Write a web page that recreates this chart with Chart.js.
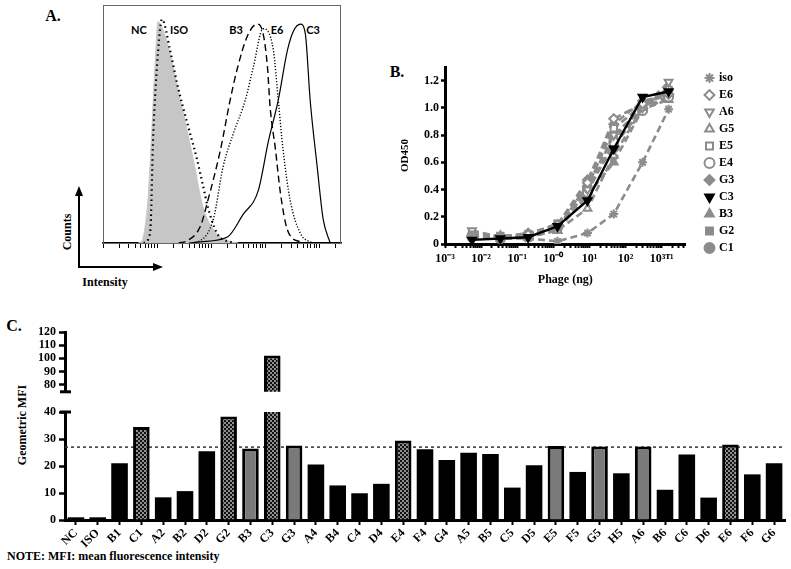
<!DOCTYPE html>
<html><head><meta charset="utf-8">
<script src="https://cdn.jsdelivr.net/npm/chart.js@4.4.1/dist/chart.umd.min.js"></script>
<style>
html,body{margin:0;padding:0;background:#fff;}
body{width:791px;height:569px;position:relative;overflow:hidden;font-family:"Liberation Serif",serif;}
canvas{position:absolute;}
.t{position:absolute;transform:translate(-50%,-50%);font-weight:bold;white-space:nowrap;line-height:1;color:#000;font-family:"Liberation Serif",serif;}
.s{font-family:Lato,"Liberation Sans",sans-serif;font-size:11px;}
</style></head><body>
<div class="t" style="left:53px;top:16px;font-size:16px">A.</div>
<div class="t s" style="left:139px;top:29px">NC</div>
<div class="t s" style="left:179px;top:29px">ISO</div>
<div class="t s" style="left:236px;top:29px">B3</div>
<div class="t s" style="left:277px;top:29px">E6</div>
<div class="t s" style="left:313px;top:29px">C3</div>
<div class="t" style="left:67px;top:232px;font-size:12px;transform:translate(-50%,-50%) rotate(-90deg)">Counts</div>
<div class="t" style="left:105px;top:282px;font-size:12px">Intensity</div>
<svg style="position:absolute;left:0;top:0" width="200" height="300">
  <line x1="79" y1="268" x2="79" y2="194" stroke="#000" stroke-width="2"/>
  <polygon points="79,186 75,196 83,196" fill="#000"/>
  <line x1="78" y1="267" x2="155" y2="267" stroke="#000" stroke-width="2"/>
  <polygon points="163,267 153,263 153,271" fill="#000"/>
</svg>
<div class="t" style="left:397px;top:72px;font-size:16px">B.</div>
<div class="t" style="left:14px;top:326px;font-size:16px">C.</div>
<div class="t" style="left:22px;top:425px;font-size:12px;transform:translate(-50%,-50%) rotate(-90deg)">Geometric MFI</div>
<div class="t" style="left:7px;top:556px;font-size:12px;transform:translate(0,-50%)">NOTE: MFI: mean fluorescence intensity</div>

<canvas id="cA" width="258" height="265" style="left:93px;top:0px"></canvas>
<canvas id="cB" width="411" height="262" style="left:380px;top:40px"></canvas>
<canvas id="cCu" width="791" height="82" style="left:0px;top:320px"></canvas>
<canvas id="cCl" width="791" height="155" style="left:0px;top:400px"></canvas>

<script>
// ===================== DATA =====================
// Panel A: flow-cytometry histograms (x = log10 intensity, y = % of max count)
const ncX  = [0.65,0.72,0.83,0.90,0.96,1.02,1.08,1.19,1.43,1.67,1.85,2.10,2.30,2.50];
const ncY  = [0,1,18,46,74,93,91,84,60,35,15,4,1,0];
const isoX = [0.75,0.87,0.93,1.02,1.09,1.24,1.37,1.48,1.61,1.74,1.85,1.94,2.11,2.40];
const isoY = [0,4,46,81,94,81,67,57,46,35,24,15,4,0];
const b3X  = [1.40,1.56,1.80,1.94,2.17,2.35,2.48,2.67,2.85,2.96,3.04,3.09,3.19,3.28,3.41,3.65,3.80];
const b3Y  = [0,1,7,18,39,60,73,87,92,88,74,57,39,21,5.5,0.5,0];
const e6X  = [1.60,1.80,2.04,2.22,2.41,2.63,2.78,2.96,3.15,3.24,3.33,3.46,3.65,3.83,3.95];
const e6Y  = [0,1,10,32,46,60,74,90,81,60,39,18,4,0.5,0];
const c3X  = [1.60,1.80,2.30,2.59,2.87,3.06,3.24,3.41,3.52,3.65,3.74,3.83,3.96,4.07,4.20];
const c3Y  = [0,0.5,2.5,12,22,43,60,81,89,92,88,60,32,10,0];

// Panel B: ELISA titration, OD450 vs phage amount (ng)
const phageNg = [0.0056, 0.034, 0.20, 1.3, 8.8, 47, 295, 1550];
const odIso = [0.05, 0.04, 0.04, 0.02, 0.08, 0.22, 0.60, 0.99];
const odE6  = [0.06, 0.05, 0.07, 0.14, 0.45, 0.92, 1.03, 1.10];
const odA6  = [0.10, 0.05, 0.06, 0.12, 0.40, 0.80, 1.00, 1.19];
const odG5  = [0.07, 0.04, 0.05, 0.10, 0.26, 0.65, 1.00, 1.15];
const odE5  = [0.08, 0.06, 0.07, 0.15, 0.42, 0.85, 1.02, 1.13];
const odE4  = [0.06, 0.05, 0.06, 0.13, 0.38, 0.75, 0.98, 1.08];
const odG3  = [0.05, 0.05, 0.08, 0.14, 0.47, 0.88, 1.05, 1.10];
const odC3  = [0.03, 0.04, 0.05, 0.13, 0.32, 0.70, 1.08, 1.12];
const odB3  = [0.07, 0.06, 0.05, 0.10, 0.36, 0.60, 0.99, 1.06];
const odG2  = [0.06, 0.04, 0.05, 0.11, 0.44, 0.78, 1.00, 1.12];
const odC1  = [0.05, 0.04, 0.06, 0.12, 0.41, 0.72, 0.99, 1.09];
const odTicks = [0, 0.2, 0.4, 0.6, 0.8, 1.0, 1.2];
const phageDecadeLabels = {'-3':'10⁻³','-2':'10⁻²','-1':'10⁻¹','0':'10⁻⁰','1':'10¹','2':'10²','3':'10³ᵀ¹'};

// Panel C: geometric MFI per clone
const clones = ['NC','ISO','B1','C1','A2','B2','D2','G2','B3','C3','G3','A4','B4','C4','D4','E4','F4','G4','A5','B5','C5','D5','E5','F5','G5','H5','A6','B6','C6','D6','E6','F6','G6'];
const mfi = [1.0,1.0,21.0,34.4,8.4,10.7,25.5,38.3,26.5,102.2,27.6,20.6,12.8,9.9,13.4,29.4,26.2,22.2,24.9,24.4,12.0,20.3,27.4,17.8,27.2,17.3,27.2,11.2,24.3,8.3,28.0,16.9,21.0];
const checkeredClones = ['C1','G2','C3','E4','E6'];
const grayClones = ['B3','G3','E5','G5','A6'];
const mfiCutoff = 27;
const lowerTicks = [0,10,20,30,40];
const upperTicks = [80,90,100,110,120];

// ===================== STYLE / CHARTS =====================
Chart.defaults.font.family = '"Liberation Serif", serif';
Chart.defaults.font.weight = 'bold';
Chart.defaults.color = '#000';
const F12 = {family:'"Liberation Serif", serif', weight:'bold', size:12};

// ---- Panel A ----
const boxPlugin = {id:'box', afterDraw(c){const a=c.chartArea, x=c.ctx; x.save(); x.strokeStyle='#666'; x.lineWidth=1; x.strokeRect(a.left+0.5,a.top+0.5,a.right-a.left-1,a.bottom-a.top); x.restore();}};
const pts = (xs, ys) => xs.map((v,i)=>({x:v, y:ys[i]}));
const histLine = (label, xs, ys, dash, w) => ({label, data:pts(xs,ys), borderColor:'#000', borderWidth:w, borderDash:dash, fill:false, pointRadius:0, cubicInterpolationMode:'monotone'});
new Chart(document.getElementById('cA'), {
  type:'line',
  data:{datasets:[
    histLine('C3', c3X, c3Y, [], 1.2),
    histLine('E6', e6X, e6Y, [1.2,1.8], 1.4),
    histLine('B3', b3X, b3Y, [7,4], 1.4),
    histLine('ISO', isoX, isoY, [1.5,3.5], 2.2),
    {label:'NC', data:pts(ncX,ncY), borderColor:'#c6c6c6', backgroundColor:'#c6c6c6', borderWidth:1, fill:'origin', pointRadius:0, cubicInterpolationMode:'monotone'}
  ]},
  options:{
    animation:false, responsive:false, events:[],
    layout:{padding:{left:10,right:10,top:5,bottom:0}},
    plugins:{legend:{display:false}, tooltip:{enabled:false}},
    scales:{
      x:{type:'linear', min:0, max:4.4,
         afterBuildTicks:s=>{const t=[]; for(let d=0; d<=4; d++) for(let k=1;k<=9;k++){const v=d+Math.log10(k); if(v<=4.4) t.push({value:v});} s.ticks=t;},
         ticks:{display:false, autoSkip:false},
         grid:{drawOnChartArea:false, tickLength:5, tickWidth:1, tickColor:'#000'},
         border:{color:'#000', width:1.5},
         afterFit:s=>{s.height=22;}},
      y:{display:false, min:0, max:100}
    }
  },
  plugins:[boxPlugin]
});

// ---- Panel B ----
const GRAY = '#8c8c8c';
const od = (label, vals, style, open, rot, color, dashed) => ({
  label, data: phageNg.map((x,i)=>({x, y:vals[i]})),
  borderColor:color, backgroundColor:color, borderWidth:dashed?2.6:2.4, borderDash:dashed?[7,4]:[],
  pointStyle:style, pointRotation:rot, pointRadius:4.5, pointBorderWidth:2,
  pointBorderColor:color, pointBackgroundColor: open ? '#fff' : color,
  fill:false, tension:0, order: color==='#000' ? -1 : 0
});
const legendShift = {id:'legendShift', afterLayout(c){const L=c.legend; if(!L) return; const d=(701-380)-L.left; L.left+=d; L.right+=d;}};
new Chart(document.getElementById('cB'), {
  type:'line',
  data:{datasets:[
    od('iso', odIso, 'star', false, 0, GRAY, true),
    od('E6', odE6, 'rectRot', true, 0, GRAY, true),
    od('A6', odA6, 'triangle', true, 180, GRAY, true),
    od('G5', odG5, 'triangle', true, 0, GRAY, true),
    od('E5', odE5, 'rect', true, 0, GRAY, true),
    od('E4', odE4, 'circle', true, 0, GRAY, true),
    od('G3', odG3, 'rectRot', false, 0, GRAY, true),
    od('C3', odC3, 'triangle', false, 180, '#000', false),
    od('B3', odB3, 'triangle', false, 0, GRAY, true),
    od('G2', odG2, 'rect', false, 0, GRAY, true),
    od('C1', odC1, 'circle', false, 0, GRAY, true)
  ]},
  options:{
    animation:false, responsive:false, events:[],
    layout:{padding:{left:0,right:62,top:27,bottom:0}},
    plugins:{
      tooltip:{enabled:false},
      legend:{position:'right', align:'start',
        labels:{usePointStyle:true, boxWidth:7, boxHeight:7, padding:5, color:'#000', font:F12,
                sort:(a,b)=>a.datasetIndex-b.datasetIndex}}
    },
    scales:{
      x:{type:'logarithmic', min:0.001, max:4600,
         afterBuildTicks:s=>{const t=[]; for(let d=-3; d<=3; d++) for(let k=1;k<=9;k++){const v=k*Math.pow(10,d); if(v<=4600) t.push({value:v});} s.ticks=t;},
         ticks:{autoSkip:false, maxRotation:0, minRotation:0, padding:4, font:F12, color:'#000',
           callback:(v)=>{const l=Math.log10(v); const r=Math.round(l); return Math.abs(l-r)<1e-6 ? phageDecadeLabels[String(r)] : '';}},
         grid:{drawOnChartArea:false, tickLength:4, tickWidth:2, tickColor:'#000'},
         border:{color:'#000', width:3},
         title:{display:true, text:'Phage (ng)', font:F12, color:'#000', padding:{top:0,bottom:15}},
         afterFit:s=>{s.height=58;}},
      y:{min:0, max:1.3,
         afterBuildTicks:s=>{s.ticks=odTicks.map(v=>({value:v}));},
         ticks:{autoSkip:false, padding:2, font:F12, color:'#000', callback:v=> v===0 ? '0' : v.toFixed(1)},
         grid:{drawOnChartArea:false, tickLength:4, tickWidth:2.5, tickColor:'#000'},
         border:{color:'#000', width:3},
         title:{display:true, text:'OD450', font:{family:'"Liberation Serif", serif', weight:'bold', size:11}, color:'#000', padding:{top:19,bottom:0}},
         afterFit:s=>{s.width=65;}}
    }
  },
  plugins:[legendShift]
});

// ---- Panel C ----
function checker(){
  const c=document.createElement('canvas'); c.width=4; c.height=4;
  const g=c.getContext('2d'); g.fillStyle='#8e8e8e'; g.fillRect(0,0,4,4);
  g.fillStyle='#111'; g.fillRect(0,0,2,2); g.fillRect(2,2,2,2);
  return g.createPattern(c,'repeat');
}
const CHECK = checker();
const barFill = clones.map(c => checkeredClones.includes(c) ? CHECK : grayClones.includes(c) ? '#7a7a7a' : '#000');
const barBorderW = clones.map(c => (checkeredClones.includes(c)||grayClones.includes(c)) ? 3 : 0);

const yAxisBase = (min, max, ticks) => ({
  min, max,
  afterBuildTicks:s=>{s.ticks=ticks.map(v=>({value:v}));},
  ticks:{autoSkip:false, padding:3, font:F12, color:'#000'},
  grid:{drawOnChartArea:false, tickLength:6, tickWidth:2.5, tickColor:'#000'},
  border:{color:'#000', width:3},
  afterFit:s=>{s.width=65;}
});
const capPlugin = (where) => ({id:'cap', afterDraw(c){const a=c.chartArea, x=c.ctx; const y = where==='top' ? a.top : a.bottom; x.save(); x.strokeStyle='#000'; x.lineWidth=3; x.beginPath(); x.moveTo(a.left-5,y); x.lineTo(a.left+6,y); x.stroke(); x.restore();}});
const cutoffPlugin = {id:'cutoff', beforeDatasetsDraw(c){const a=c.chartArea, x=c.ctx; const py=c.scales.y.getPixelForValue(mfiCutoff); x.save(); x.setLineDash([3,3]); x.lineWidth=1.5; x.strokeStyle='#333'; x.beginPath(); x.moveTo(a.left,py); x.lineTo(a.right,py); x.stroke(); x.restore();}};

const barSet = (vals) => ({label:'Geometric MFI', data:vals, backgroundColor:barFill, borderColor:'#000', borderWidth:barBorderW, borderSkipped:'start', barPercentage:0.76, categoryPercentage:1, clip:0});

// upper (broken) segment
const upperMin = 74.5;
new Chart(document.getElementById('cCu'), {
  type:'bar',
  data:{labels:clones, datasets:[barSet(mfi.map(v => v > upperMin ? v : null))]},
  options:{
    animation:false, responsive:false, events:[],
    layout:{padding:{left:0,right:6,top:12,bottom:4}},
    plugins:{legend:{display:false}, tooltip:{enabled:false}},
    scales:{
      x:{display:false, offset:true},
      y:yAxisBase(upperMin, 120, upperTicks)
    }
  },
  plugins:[capPlugin('bottom')]
});

// lower segment
new Chart(document.getElementById('cCl'), {
  type:'bar',
  data:{labels:clones, datasets:[barSet(mfi)]},
  options:{
    animation:false, responsive:false, events:[],
    layout:{padding:{left:0,right:6,top:12,bottom:0}},
    plugins:{legend:{display:false}, tooltip:{enabled:false}},
    scales:{
      x:{offset:true,
         ticks:{autoSkip:false, minRotation:45, maxRotation:45, padding:1, font:F12, color:'#000'},
         grid:{drawOnChartArea:false, offset:false, tickLength:5, tickWidth:2, tickColor:'#000'},
         border:{color:'#000', width:3},
         afterFit:s=>{s.height=35;}},
      y:yAxisBase(0, 40, lowerTicks)
    }
  },
  plugins:[cutoffPlugin, capPlugin('top')]
});
</script>
</body></html>
